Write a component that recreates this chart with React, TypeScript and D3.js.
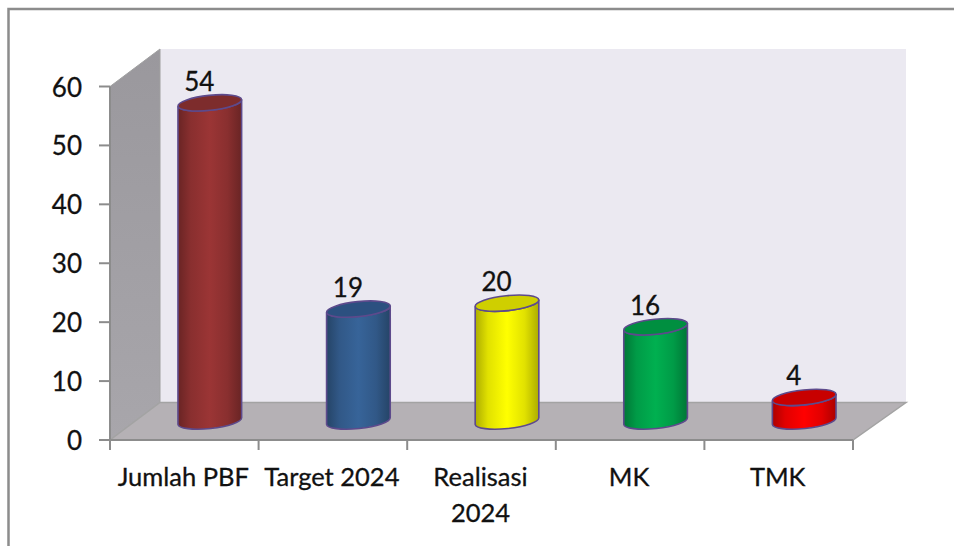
import React from 'react';
import * as d3 from 'd3';

const categories = ['Jumlah PBF', 'Target 2024', 'Realisasi 2024', 'MK', 'TMK'];
const values = [54, 19, 20, 16, 4];
const baseColors = ['#9b3535', '#376499', '#ffff00', '#00b050', '#ff0000'];
const topColors = ['#7d2c2c', '#2c5080', '#cfcf00', '#008f40', '#c80000'];
const yTicks = [0, 10, 20, 30, 40, 50, 60];

const FONT = 'Lato, "Open Sans", sans-serif';
const depthX = 50; // 3d offset of the back wall
const depthY = 37.5;
const rx = 32;
const ry = 7.5;
const tilt = -6;

const y = d3.scaleLinear().domain([0, 60]).range([440, 86.5]);
const x = d3.scaleBand<string>().domain(categories).range([110, 853]);

const polygon = (pts: [number, number][]) => 'M' + pts.map(p => p.join(',')).join('L') + 'Z';

const App = () => {
  const x0 = x.range()[0];
  const x1 = x.range()[1];
  const y0 = y(0);
  const yTop = y(60);
  const tiltRad = (tilt * Math.PI) / 180;
  const ex = rx * Math.cos(tiltRad);
  const ey = rx * Math.sin(tiltRad);
  const textStroke = { stroke: '#111', strokeWidth: 0.3 };

  return (
    <svg
      width={954}
      height={546}
      style={{ position: 'absolute', left: 0, top: 0, background: '#fff', fontFamily: FONT }}
    >
      <defs>
        <linearGradient id="sideWall" x1="0" x2="0" y1="0" y2="1">
          <stop offset="0" stopColor="#9a989d" />
          <stop offset="1" stopColor="#a8a6ab" />
        </linearGradient>
        {baseColors.map((c, i) => {
          const edge = d3.color(c)!.darker(1.1).formatHex();
          const mid = d3.color(c)!.darker(0.35).formatHex();
          return (
            <linearGradient key={i} id={`cyl${i}`} x1="0" x2="1" y1="0" y2="0">
              <stop offset="0" stopColor={edge} />
              <stop offset="0.2" stopColor={mid} />
              <stop offset="0.5" stopColor={c} />
              <stop offset="0.78" stopColor={mid} />
              <stop offset="1" stopColor={edge} />
            </linearGradient>
          );
        })}
      </defs>

      {/* frame */}
      <path d="M8.5,546V9H954" fill="none" stroke="#8c8c8c" strokeWidth={2.5} />

      {/* walls and floor */}
      <path
        d={polygon([[x0 + depthX, yTop - depthY], [x1 + depthX + 3, yTop - depthY], [x1 + depthX + 3, y0 - depthY], [x0 + depthX, y0 - depthY]])}
        fill="#ebe9f1"
      />
      <path
        d={polygon([[x0, yTop], [x0 + depthX, yTop - depthY], [x0 + depthX, y0 - depthY], [x0, y0]])}
        fill="url(#sideWall)"
        stroke="#a0a0a0"
      />
      <path
        d={polygon([[x0, y0], [x0 + depthX, y0 - depthY], [x1 + depthX + 3, y0 - depthY], [x1, y0]])}
        fill="#b5b1b5"
        stroke="#a3a3a3"
        strokeWidth={1.5}
      />

      {/* axes */}
      <g stroke="#8c8c8c" strokeWidth={2}>
        <line x1={x0} x2={x0} y1={yTop} y2={y0 + 10} />
        <line x1={x0} x2={x1} y1={y0} y2={y0} />
        {yTicks.map(t => (
          <line key={t} x1={x0 - 11} x2={x0} y1={y(t)} y2={y(t)} />
        ))}
        {categories.map(c => (
          <line key={c} x1={x(c)! + x.bandwidth()} x2={x(c)! + x.bandwidth()} y1={y0} y2={y0 + 10} />
        ))}
      </g>
      {yTicks.map(t => (
        <text key={t} x={82} y={y(t) + 10} textAnchor="end" fontSize={26} fill="#111" {...textStroke}>
          {t}
        </text>
      ))}
      {categories.map(c => {
        const words = c === 'Realisasi 2024' ? ['Realisasi', '2024'] : [c];
        return words.map((w, j) => (
          <text
            key={w}
            x={x(c)! + x.bandwidth() / 2 - 1}
            y={486 + j * 36}
            textAnchor="middle"
            fontSize={25.5}
            fill="#111"
            {...textStroke}
          >
            {w}
          </text>
        ));
      })}

      {/* cylinders */}
      {categories.map((c, i) => {
        const cx = x(c)! + x.bandwidth() / 2 + depthX / 2 + 0.5;
        const cyBottom = y0 - 19;
        const cyTop = y(values[i]) - 19;
        const body =
          `M${cx - ex},${cyTop - ey}L${cx - ex},${cyBottom - ey}` +
          `A${rx},${ry} ${tilt} 0 0 ${cx + ex},${cyBottom + ey}` +
          `L${cx + ex},${cyTop + ey}` +
          `A${rx},${ry} ${tilt} 0 1 ${cx - ex},${cyTop - ey}Z`;
        return (
          <g key={c} stroke="#5d4a8c" strokeWidth={1.6}>
            <path d={body} fill={`url(#cyl${i})`} />
            <ellipse
              cx={cx}
              cy={cyTop}
              rx={rx}
              ry={ry}
              transform={`rotate(${tilt} ${cx} ${cyTop})`}
              fill={topColors[i]}
            />
            <text
              x={cx - 10.5}
              y={cyTop - 12}
              textAnchor="middle"
              fontSize={26}
              fill="#111"
              {...textStroke}
            >
              {values[i]}
            </text>
          </g>
        );
      })}
    </svg>
  );
};

export default App;
